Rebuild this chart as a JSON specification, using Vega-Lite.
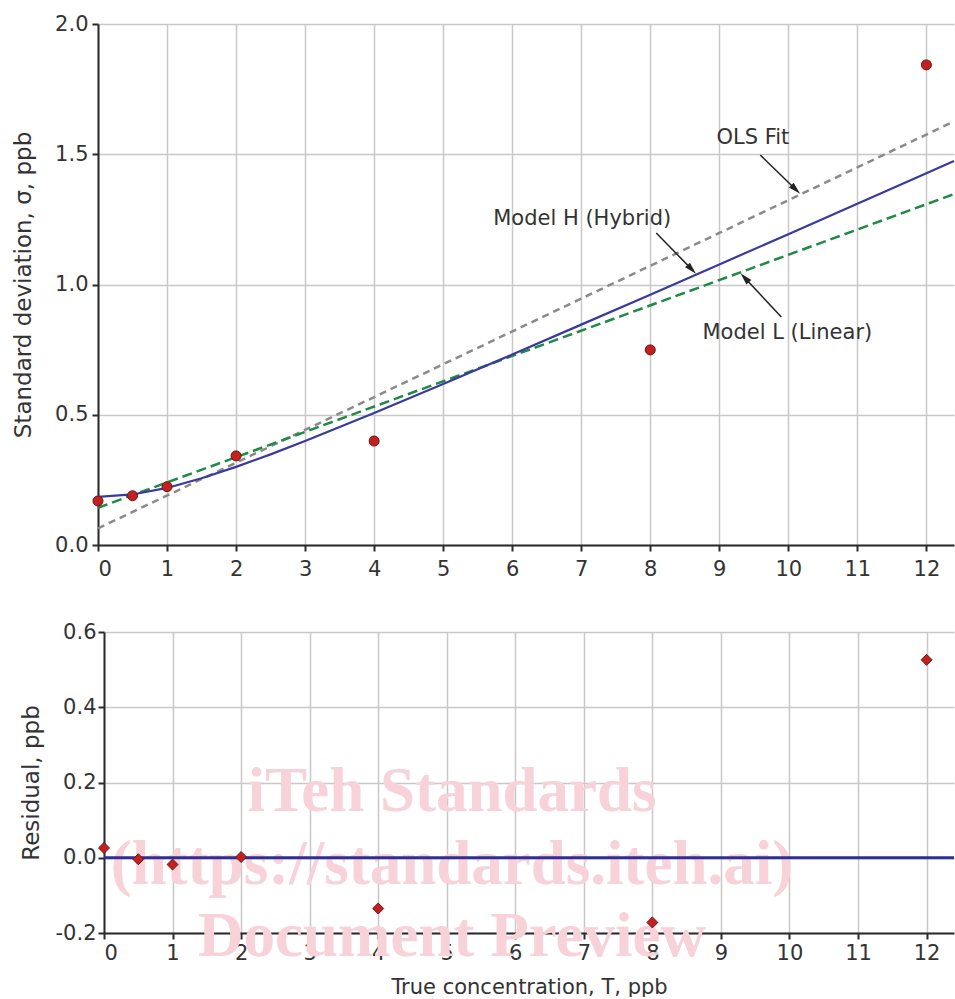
{
  "$schema": "https://vega.github.io/schema/vega-lite/v6.json",
  "padding": {"left": 12, "top": 13, "right": 0, "bottom": 0},
  "spacing": 42,
  "background": "white",
  "config": {
    "view": {"stroke": null},
    "axis": {
      "domainColor": "#2a2a2a", "domainWidth": 2,
      "tickColor": "#2a2a2a", "tickWidth": 2, "tickSize": 6,
      "gridColor": "#c8c8c8", "gridWidth": 1.5,
      "labelFont": "DejaVu Sans", "titleFont": "DejaVu Sans",
      "labelFontSize": 21, "titleFontSize": 23,
      "labelColor": "#333333", "titleColor": "#333333",
      "titleFontWeight": "normal"
    }
  },
  "datasets": {
    "pts": [
      {"T": 0, "sd": 0.169, "res": 0.026},
      {"T": 0.5, "sd": 0.189, "res": -0.004},
      {"T": 1, "sd": 0.224, "res": -0.018},
      {"T": 2, "sd": 0.342, "res": 0.002},
      {"T": 4, "sd": 0.399, "res": -0.135},
      {"T": 8, "sd": 0.749, "res": -0.172},
      {"T": 12, "sd": 1.843, "res": 0.526}
    ],
    "curves": [
      {"model": "OLS", "T": 0, "sd": 0.064},
      {"model": "OLS", "T": 12.4, "sd": 1.626},
      {"model": "L", "T": 0, "sd": 0.143},
      {"model": "L", "T": 12.4, "sd": 1.347},
      {"model": "H", "T": 0, "sd": 0.185},
      {"model": "H", "T": 0.5, "sd": 0.194},
      {"model": "H", "T": 1, "sd": 0.219},
      {"model": "H", "T": 1.5, "sd": 0.256},
      {"model": "H", "T": 2, "sd": 0.300},
      {"model": "H", "T": 2.5, "sd": 0.348},
      {"model": "H", "T": 3, "sd": 0.399},
      {"model": "H", "T": 4, "sd": 0.507},
      {"model": "H", "T": 5, "sd": 0.618},
      {"model": "H", "T": 6, "sd": 0.731},
      {"model": "H", "T": 7, "sd": 0.846},
      {"model": "H", "T": 8, "sd": 0.961},
      {"model": "H", "T": 9, "sd": 1.077},
      {"model": "H", "T": 10, "sd": 1.193},
      {"model": "H", "T": 11, "sd": 1.310},
      {"model": "H", "T": 12, "sd": 1.427},
      {"model": "H", "T": 12.4, "sd": 1.474}
    ],
    "labels": [
      {"label": "OLS Fit", "T": 9.486, "sd": 1.562},
      {"label": "Model H (Hybrid)", "T": 7.014, "sd": 1.251},
      {"label": "Model L (Linear)", "T": 9.986, "sd": 0.814}
    ],
    "arrows": [
      {"name": "OLS", "T": 9.594, "sd": 1.497, "T2": 10.107, "sd2": 1.365},
      {"name": "H", "T": 8.087, "sd": 1.198, "T2": 8.601, "sd2": 1.058},
      {"name": "L", "T": 9.899, "sd": 0.875, "T2": 9.368, "sd2": 1.026}
    ],
    "zero": [
      {"T": 0, "res": 0},
      {"T": 12.4, "res": 0}
    ],
    "watermark": [
      {"text": "iTeh Standards", "T": 5.077, "res": 0.1755},
      {"text": "(https://standards.iteh.ai)", "T": 5.077, "res": -0.0185},
      {"text": "Document Preview", "T": 5.077, "res": -0.21}
    ]
  },
  "vconcat": [
    {
      "width": 856,
      "height": 521,
      "encoding": {
        "x": {
          "field": "T", "type": "quantitative",
          "scale": {"domain": [0, 12.4], "nice": false, "zero": false},
          "axis": {"values": [0,1,2,3,4,5,6,7,8,9,10,11,12], "format": "d", "title": null, "labelPadding": 7, "grid": true}
        },
        "y": {
          "field": "sd", "type": "quantitative",
          "scale": {"domain": [0, 2], "nice": false},
          "axis": {"values": [0, 0.5, 1, 1.5, 2], "format": ".1f", "title": "Standard deviation, σ, ppb", "labelPadding": 4, "titlePadding": 19, "grid": true}
        }
      },
      "layer": [
        {
          "data": {"name": "curves"},
          "transform": [{"filter": "datum.model === 'OLS'"}],
          "mark": {"type": "line", "color": "#8a8a8a", "strokeWidth": 2.5, "strokeDash": [7, 5]}
        },
        {
          "data": {"name": "curves"},
          "transform": [{"filter": "datum.model === 'L'"}],
          "mark": {"type": "line", "color": "#1f8a45", "strokeWidth": 2.5, "strokeDash": [10, 5]}
        },
        {
          "data": {"name": "curves"},
          "transform": [{"filter": "datum.model === 'H'"}],
          "mark": {"type": "line", "color": "#3a3a9e", "strokeWidth": 2.2}
        },
        {
          "data": {"name": "arrows"},
          "mark": {"type": "rule", "color": "#222222", "strokeWidth": 1.5},
          "encoding": {"x2": {"field": "T2"}, "y2": {"field": "sd2"}}
        },
        {
          "data": {"name": "arrows"},
          "transform": [{"filter": "datum.name === 'OLS'"}],
          "mark": {"type": "point", "shape": "M0,-1L-0.55,1L0.55,1Z", "filled": true, "color": "#222222", "size": 150, "angle": 134, "opacity": 1},
          "encoding": {"x": {"field": "T2", "type": "quantitative"}, "y": {"field": "sd2", "type": "quantitative"}}
        },
        {
          "data": {"name": "arrows"},
          "transform": [{"filter": "datum.name === 'H'"}],
          "mark": {"type": "point", "shape": "M0,-1L-0.55,1L0.55,1Z", "filled": true, "color": "#222222", "size": 150, "angle": 136, "opacity": 1},
          "encoding": {"x": {"field": "T2", "type": "quantitative"}, "y": {"field": "sd2", "type": "quantitative"}}
        },
        {
          "data": {"name": "arrows"},
          "transform": [{"filter": "datum.name === 'L'"}],
          "mark": {"type": "point", "shape": "M0,-1L-0.55,1L0.55,1Z", "filled": true, "color": "#222222", "size": 150, "angle": 317, "opacity": 1},
          "encoding": {"x": {"field": "T2", "type": "quantitative"}, "y": {"field": "sd2", "type": "quantitative"}}
        },
        {
          "data": {"name": "labels"},
          "mark": {"type": "text", "font": "DejaVu Sans", "fontSize": 21, "color": "#333333", "align": "center", "baseline": "middle"},
          "encoding": {"text": {"field": "label"}}
        },
        {
          "data": {"name": "pts"},
          "mark": {"type": "point", "shape": "circle", "filled": true, "color": "#c42020", "stroke": "#6a1515", "strokeWidth": 1, "size": 100, "opacity": 1}
        }
      ]
    },
    {
      "width": 856,
      "height": 301,
      "encoding": {
        "x": {
          "field": "T", "type": "quantitative",
          "scale": {"domain": [0, 12.4], "nice": false, "zero": false, "range": [6, 856]},
          "axis": {"values": [0,1,2,3,4,5,6,7,8,9,10,11,12], "format": "d", "title": "True concentration, T, ppb", "titleFontSize": 21, "labelPadding": 3, "titlePadding": 13, "grid": true}
        },
        "y": {
          "field": "res", "type": "quantitative",
          "scale": {"domain": [-0.2, 0.6], "nice": false, "zero": false},
          "axis": {"values": [-0.2, 0, 0.2, 0.4, 0.6], "labelExpr": "datum.value < 0 ? '-' + format(-datum.value, '.1f') : format(datum.value, '.1f')", "title": "Residual, ppb", "labelPadding": 2, "titlePadding": 12, "offset": -6, "grid": true}
        }
      },
      "layer": [
        {
          "data": {"name": "watermark"},
          "mark": {"type": "text", "font": "Liberation Serif", "fontWeight": "bold", "fontSize": 63, "color": "#f7d2d8", "align": "center", "baseline": "middle"},
          "encoding": {"text": {"field": "text"}}
        },
        {
          "data": {"name": "zero"},
          "mark": {"type": "line", "color": "#2e2e96", "strokeWidth": 3}
        },
        {
          "data": {"name": "pts"},
          "mark": {"type": "point", "shape": "diamond", "filled": true, "color": "#c42020", "stroke": "#6a1515", "strokeWidth": 1, "size": 120, "opacity": 1}
        }
      ]
    }
  ]
}
